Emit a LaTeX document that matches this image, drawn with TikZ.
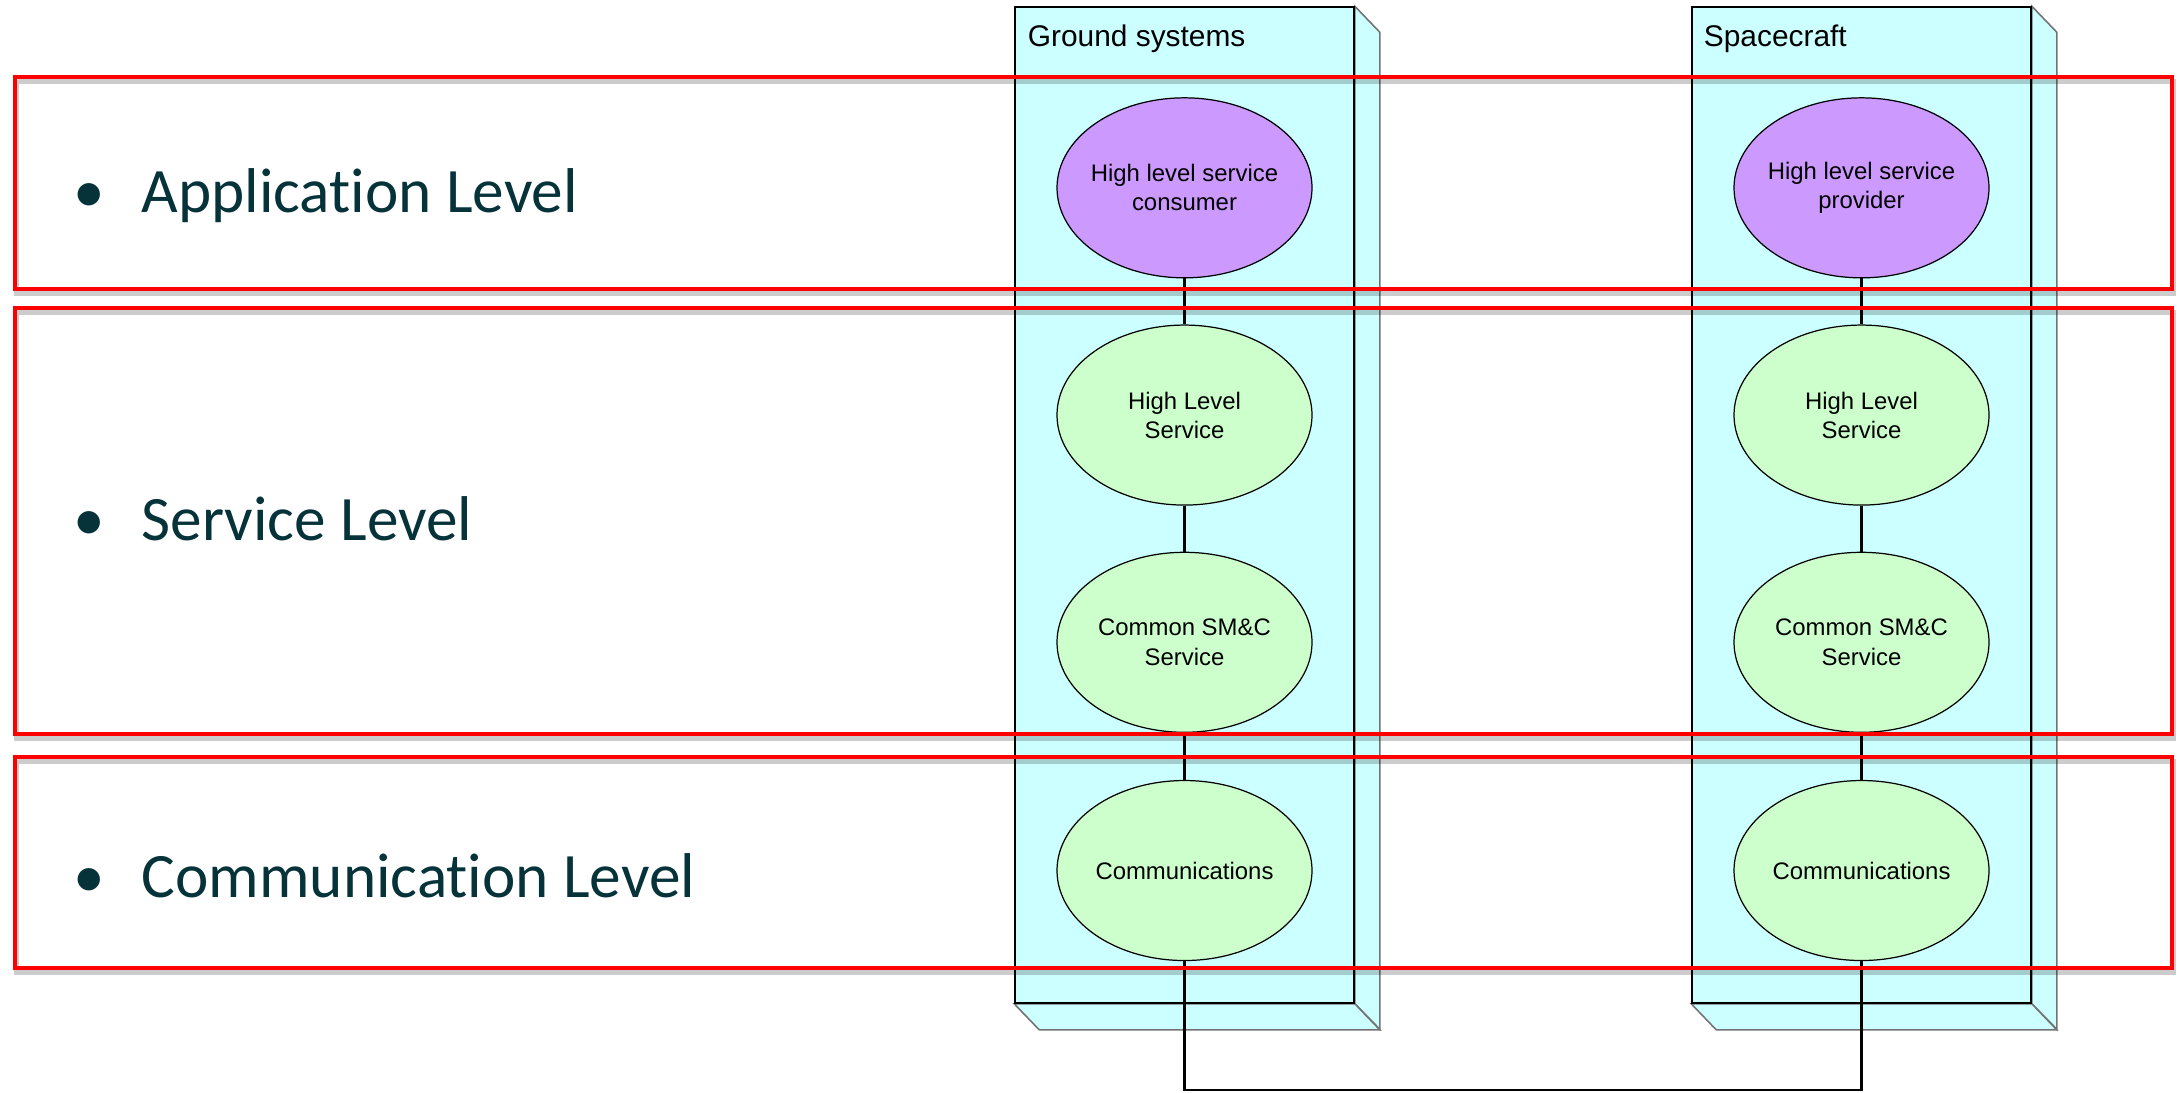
\documentclass[tikz,border=0pt]{standalone}
\usepackage{fontspec}
\setmainfont{Liberation Sans}
\newfontfamily\calfont[Ligatures=NoCommon]{Carlito}
\usetikzlibrary{positioning, shapes.geometric, backgrounds}

\definecolor{colcyan}{RGB}{204,255,255}
\definecolor{apppurple}{RGB}{204,153,255}
\definecolor{svcgreen}{RGB}{204,255,204}
\definecolor{lvltext}{RGB}{6,50,58}
\definecolor{bandred}{RGB}{255,0,0}

\begin{document}
\begin{tikzpicture}[
    x=0.1mm, y=-0.1mm,
    column/.style={
        draw=black, line width=0.45pt, fill=colcyan,
        minimum width=33.9mm, minimum height=99.6mm, inner sep=0pt
    },
    depth/.style={draw=black!55, line width=0.45pt, fill=colcyan},
    colname/.style={font=\fontsize{8.5}{10}\selectfont, anchor=base west, inner sep=0pt},
    blob/.style={
        ellipse, draw, line width=0.35pt,
        minimum width=25.5mm, minimum height=18mm,
        inner xsep=-2mm, inner ysep=0pt,
        align=center, font=\fontsize{6.8}{8.3}\selectfont
    },
    app/.style={blob, fill=apppurple},
    svc/.style={blob, fill=svcgreen},
    conn/.style={line width=0.6pt},
    band/.style={
        draw=bandred, line width=1.1pt,
        preaction={draw=black, opacity=0.2, line width=1.4pt,
            transform canvas={xshift=0.15mm, yshift=-0.45mm}}
    },
    lvl/.style={font=\calfont\fontsize{18}{21}\selectfont, text=lvltext,
        anchor=base west, inner sep=0pt}
]
\useasboundingbox (0,0) rectangle (2177,1092);

% -- the two deployment nodes --
\node[column] (ground) at (1184.5,505) {};
\node[column] (craft) at (1861.5,505) {};

\begin{scope}[on background layer]
\draw[depth] (ground.north east) -- ++(25,26) -- ++(0,997) -- (ground.south east) -- cycle;
\draw[depth] (ground.south west) -- ++(25,26) -- ([shift={(25,26)}]ground.south east) -- (ground.south east) -- cycle;
\draw[depth] (craft.north east) -- ++(25,26) -- ++(0,997) -- (craft.south east) -- cycle;
\draw[depth] (craft.south west) -- ++(25,26) -- ([shift={(25,26)}]craft.south east) -- (craft.south east) -- cycle;
\end{scope}

\node[colname] (groundname) at ([shift={(13,40)}]ground.north west) {Ground systems};
\node[colname] (craftname) at ([shift={(12,40)}]craft.north west) {Spacecraft};

% -- ground side stack --
\node[app, below=9.1mm of ground.north] (gapp) {High level service\\consumer};
\node[svc, below=4.6mm of gapp] (ghls) {High Level\\Service};
\node[svc, below=4.6mm of ghls] (gsmc) {Common SM\&C\\Service};
\node[svc, below=4.7mm of gsmc] (gcomm) {Communications};

% -- spacecraft side stack --
\node[app, below=9.1mm of craft.north] (sapp) {High level service\\provider};
\node[svc, below=4.6mm of sapp] (shls) {High Level\\Service};
\node[svc, below=4.6mm of shls] (ssmc) {Common SM\&C\\Service};
\node[svc, below=4.7mm of ssmc] (scomm) {Communications};

% -- vertical links --
\draw[conn] (gapp) -- (ghls);
\draw[conn] (ghls) -- (gsmc);
\draw[conn] (gsmc) -- (gcomm);
\draw[conn] (sapp) -- (shls);
\draw[conn] (shls) -- (ssmc);
\draw[conn] (ssmc) -- (scomm);

% -- ground to spacecraft link --
\coordinate (linkfoot) at (1523,1090);
\draw[conn] (gcomm) |- (linkfoot) -| (scomm);

% -- level bands --
\draw[band] (15,77) rectangle (2172,289);
\draw[band] (15,308) rectangle (2172,734);
\draw[band] (15,757) rectangle (2172,968);

\node[lvl] (applvl) at (73,212) {\makebox[6.8mm][l]{\textbullet}Application Level};
\node[lvl] (svclvl) at (73,540) {\makebox[6.8mm][l]{\textbullet}Service Level};
\node[lvl] (comlvl) at (73,897) {\makebox[6.8mm][l]{\textbullet}Communication Level};

\end{tikzpicture}
\end{document}
